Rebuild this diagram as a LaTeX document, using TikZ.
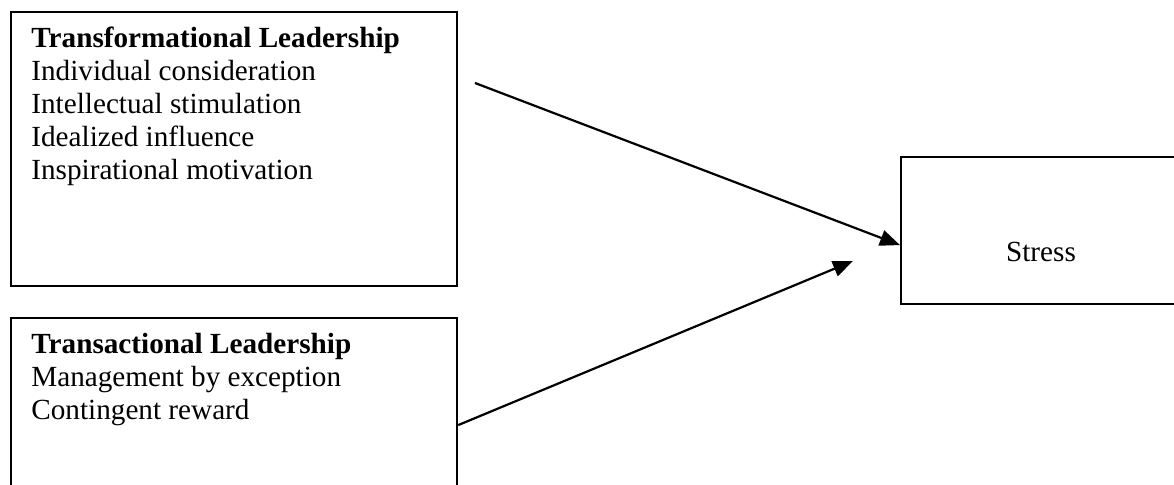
\documentclass[tikz,border=0pt]{standalone}
\usepackage{fontspec}
\setmainfont{Liberation Serif}
\usetikzlibrary{arrows.meta}
\begin{document}
\begin{tikzpicture}[x=0.5pt,y=-0.5pt,
  box/.style={draw, line width=1.1pt, rectangle, inner sep=0pt, anchor=north west},
  txt/.style={anchor=base west, inner sep=0pt, font=\fontsize{14.6}{17}\selectfont},
  txtb/.style={anchor=base west, inner sep=0pt, font=\fontsize{14.6}{17}\selectfont\bfseries},
  conn/.style={line width=1.1pt, -{Triangle[length=10pt,width=8pt]}}]
\useasboundingbox (0,0) rectangle (1174,485);
\clip (0,0) rectangle (1174,485);
% boxes
\node[box, minimum width=223pt, minimum height=137pt] (tf) at (10,11) {};
\node[box, minimum width=223pt, minimum height=91.5pt] (ta) at (10,317) {};
\node[box, minimum width=145pt, minimum height=73.5pt] (st) at (900,156) {};
% texts
\node[txtb] (tf0) at (31,48) {Transformational Leadership};
\node[txt] (tf1) at (31,81) {Individual consideration};
\node[txt] (tf2) at (31,114) {Intellectual stimulation};
\node[txt] (tf3) at (31,147) {Idealized influence};
\node[txt] (tf4) at (31,180) {Inspirational motivation};
\node[txtb] (ta0) at (31,354) {Transactional Leadership};
\node[txt] (ta1) at (31,387) {Management by exception};
\node[txt] (ta2) at (31,420) {Contingent reward};
\node[anchor=base, inner sep=0pt, font=\fontsize{14.6}{17}\selectfont] (stt) at (1041,262) {Stress};
% connectors
\coordinate (a1s) at (475,83);
\coordinate (a2e) at (853,261);
\draw[conn] (a1s) -- ([yshift=-7.25pt]st.west);
\draw[conn] ([yshift=-7.75pt]ta.east) -- (a2e);
\end{tikzpicture}
\end{document}
